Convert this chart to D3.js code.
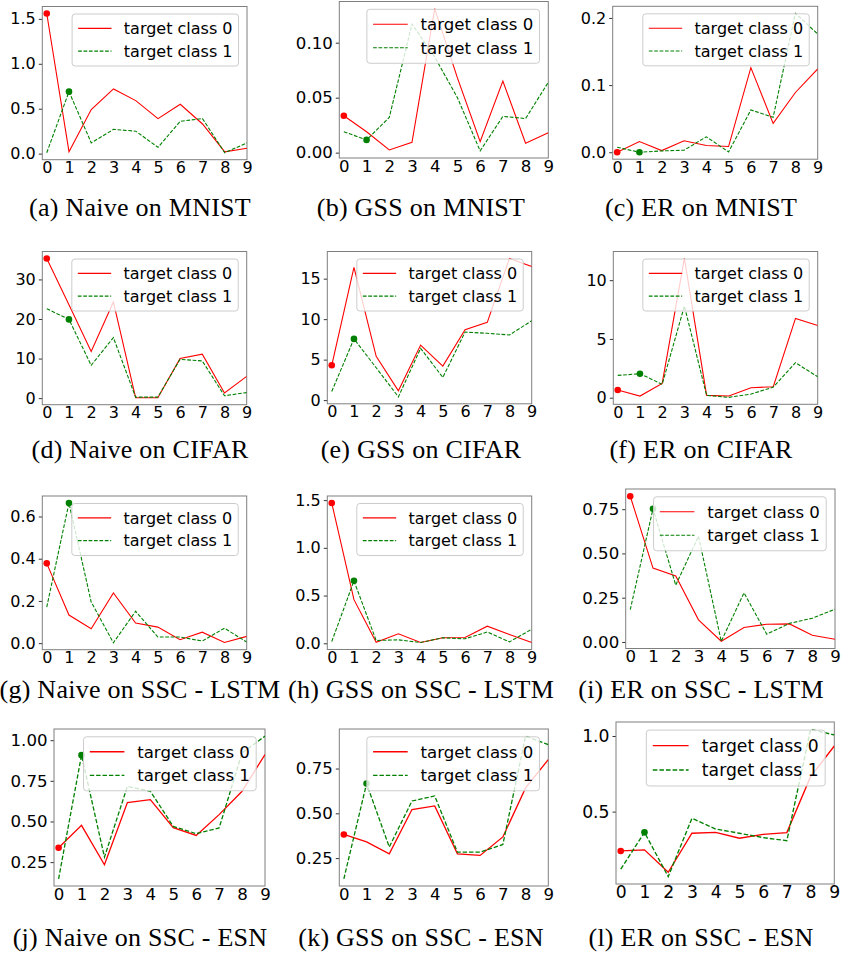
<!DOCTYPE html>
<html>
<head>
<meta charset="utf-8">
<script src="https://cdn.jsdelivr.net/npm/d3@7"></script>
<style>
  body { margin: 0; background: #fff; }
  svg { display: block; }
</style>
</head>
<body>
<div id="chart"></div>
<script>
// x categories (target class index on the x axis)
const classes = [0, 1, 2, 3, 4, 5, 6, 7, 8, 9];
const seriesNames = ["target class 0", "target class 1"];

// (a) Naive on MNIST
const naiveMnist0 = [1.56, 0.02, 0.49, 0.72, 0.59, 0.39, 0.55, 0.33, 0.02, 0.06];
const naiveMnist1 = [0.01, 0.69, 0.12, 0.27, 0.25, 0.07, 0.36, 0.39, 0.01, 0.12];
// (b) GSS on MNIST
const gssMnist0 = [0.0336, 0.019, 0.0025, 0.0094, 0.131, 0.068, 0.010, 0.065, 0.0085, 0.018];
const gssMnist1 = [0.019, 0.0116, 0.032, 0.117, 0.087, 0.050, 0.0016, 0.033, 0.031, 0.064];
// (c) ER on MNIST
const erMnist0 = [0.0, 0.016, 0.0025, 0.017, 0.010, 0.0085, 0.126, 0.043, 0.089, 0.124];
const erMnist1 = [0.0075, 0.0, 0.002, 0.003, 0.023, 0.0005, 0.063, 0.052, 0.207, 0.176];
// (d) Naive on CIFAR
const naiveCifar0 = [35.3, 23.6, 11.8, 24.3, 0.1, 0.1, 10.0, 11.1, 1.3, 5.5];
const naiveCifar1 = [22.6, 19.9, 8.3, 15.3, 0.25, 0.25, 9.8, 9.4, 0.6, 1.4];
// (e) GSS on CIFAR
const gssCifar0 = [4.3, 16.4, 5.4, 1.15, 6.8, 4.2, 8.7, 9.6, 17.5, 16.5];
const gssCifar1 = [1.07, 7.56, 4.0, 0.4, 6.4, 2.8, 8.4, 8.25, 8.05, 9.8];
// (f) ER on CIFAR
const erCifar0 = [0.65, 0.14, 1.22, 11.85, 0.2, 0.14, 0.85, 0.93, 6.75, 6.15];
const erCifar1 = [1.9, 2.04, 1.14, 7.8, 0.2, 0.03, 0.31, 0.9, 2.98, 1.78];
// (g) Naive on SSC - LSTM
const naiveLstm0 = [0.378, 0.133, 0.068, 0.238, 0.095, 0.076, 0.016, 0.052, 0.003, 0.032];
const naiveLstm1 = [0.171, 0.664, 0.195, 0.002, 0.151, 0.029, 0.029, 0.010, 0.071, 0.005];
// (h) GSS on SSC - LSTM
const gssLstm0 = [1.47, 0.457, 0.01, 0.10, 0.008, 0.058, 0.061, 0.179, 0.093, 0.008];
const gssLstm1 = [0.018, 0.654, 0.029, 0.036, 0.008, 0.058, 0.047, 0.118, 0.015, 0.147];
// (i) ER on SSC - LSTM
const erLstm0 = [0.823, 0.417, 0.373, 0.125, 0.004, 0.082, 0.10, 0.102, 0.038, 0.015];
const erLstm1 = [0.182, 0.752, 0.321, 0.597, 0.004, 0.277, 0.044, 0.105, 0.134, 0.185];
// (j) Naive on SSC - ESN
const naiveEsn0 = [0.338, 0.476, 0.234, 0.616, 0.634, 0.462, 0.414, 0.542, 0.686, 0.912];
const naiveEsn1 = [0.147, 0.908, 0.281, 0.716, 0.686, 0.470, 0.425, 0.460, 0.922, 1.025];
// (k) GSS on SSC - ESN
const gssEsn0 = [0.382, 0.340, 0.274, 0.521, 0.541, 0.274, 0.265, 0.368, 0.642, 0.800];
const gssEsn1 = [0.134, 0.666, 0.312, 0.569, 0.597, 0.283, 0.283, 0.326, 0.931, 0.884];
// (l) ER on SSC - ESN
const erEsn0 = [0.240, 0.247, 0.099, 0.357, 0.363, 0.324, 0.350, 0.361, 0.731, 0.934];
const erEsn1 = [0.119, 0.363, 0.070, 0.456, 0.385, 0.357, 0.328, 0.308, 1.044, 1.007];

// y tick labels, one list per panel
const yTicksA = ["0.0", "0.5", "1.0", "1.5"];
const yTicksB = ["0.00", "0.05", "0.10"];
const yTicksC = ["0.0", "0.1", "0.2"];
const yTicksD = ["0", "10", "20", "30"];
const yTicksE = ["0", "5", "10", "15"];
const yTicksF = ["0", "5", "10"];
const yTicksG = ["0.0", "0.2", "0.4", "0.6"];
const yTicksH = ["0.0", "0.5", "1.0", "1.5"];
const yTicksI = ["0.00", "0.25", "0.50", "0.75"];
const yTicksJ = ["0.25", "0.50", "0.75", "1.00"];
const yTicksK = ["0.25", "0.50", "0.75"];
const yTicksL = ["0.5", "1.0"];

const captions = [
    "(a) Naive on MNIST", "(b) GSS on MNIST", "(c) ER on MNIST",
    "(d) Naive on CIFAR", "(e) GSS on CIFAR", "(f) ER on CIFAR",
    "(g) Naive on SSC - LSTM", "(h) GSS on SSC - LSTM", "(i) ER on SSC - LSTM",
    "(j) Naive on SSC - ESN", "(k) GSS on SSC - ESN", "(l) ER on SSC - ESN"
];

const panels = [
    {c0: naiveMnist0, c1: naiveMnist1, ticks: yTicksA},
    {c0: gssMnist0, c1: gssMnist1, ticks: yTicksB},
    {c0: erMnist0, c1: erMnist1, ticks: yTicksC},
    {c0: naiveCifar0, c1: naiveCifar1, ticks: yTicksD},
    {c0: gssCifar0, c1: gssCifar1, ticks: yTicksE},
    {c0: erCifar0, c1: erCifar1, ticks: yTicksF},
    {c0: naiveLstm0, c1: naiveLstm1, ticks: yTicksG},
    {c0: gssLstm0, c1: gssLstm1, ticks: yTicksH},
    {c0: erLstm0, c1: erLstm1, ticks: yTicksI},
    {c0: naiveEsn0, c1: naiveEsn1, ticks: yTicksJ},
    {c0: gssEsn0, c1: gssEsn1, ticks: yTicksK},
    {c0: erEsn0, c1: erEsn1, ticks: yTicksL}
];

// axes boxes in px: left, top, right, bottom, font size, line width
const layout = [
    [42.3, 6.5, 247, 159.7, 16, 1.1], [339.3, 1.5, 548.3, 158, 16.6, 1.1], [612.7, 6.3, 817.7, 159.2, 16, 1.1],
    [42.3, 251.5, 246.7, 404.7, 16, 1.1], [327.3, 251.5, 531.7, 403.8, 16, 1.1], [613.3, 251.5, 817.7, 404.3, 16, 1.1],
    [42.3, 496, 246.7, 649.7, 16, 1.1], [327.3, 496, 531.7, 649.5, 16, 1.1], [625.7, 489, 835, 648.5, 16.6, 1.1],
    [54, 729, 265, 886, 16.6, 1.3], [339.3, 729, 548.3, 886, 16.6, 1.3], [616, 722, 834.3, 884, 17.2, 1.35]
];
const captionX = [140, 421, 701];
const captionY = [216, 458, 698, 946];

const svg = d3.select("#chart").append("svg")
    .attr("width", 841)
    .attr("height", 955)
    .style("font-family", "'DejaVu Sans', sans-serif");

panels.forEach(function (p, i) {
    drawPanel(p, layout[i], i);
    svg.append("text")
        .attr("x", captionX[i % 3])
        .attr("y", captionY[Math.floor(i / 3)])
        .attr("text-anchor", "middle")
        .style("font-family", "'Liberation Serif', serif")
        .style("font-size", "26px")
        .style("letter-spacing", "0.25px")
        .text(captions[i]);
});

function drawPanel(p, box, i) {
    const l = box[0], t = box[1], r = box[2], b = box[3], fs = box[4], sw = box[5];
    const dash = (sw * 3.4) + "," + (sw * 1.5);

    const x = d3.scaleLinear().domain([-0.2, 9]).range([l, r]);
    // matplotlib style 5% margins on y
    const all = p.c0.concat(p.c1);
    const lo = d3.min(all), hi = d3.max(all), pad = (hi - lo) * 0.05;
    const y = d3.scaleLinear().domain([lo - pad, hi + pad]).range([b, t]);

    const g = svg.append("g");

    svg.append("clipPath").attr("id", "clip" + i)
        .append("rect")
        .attr("x", l).attr("y", t)
        .attr("width", r - l).attr("height", b - t);

    // y axis
    const yAxis = g.append("g")
        .attr("transform", "translate(" + l + ",0)")
        .call(d3.axisLeft(y)
            .tickValues(p.ticks.map(Number))
            .tickFormat(function (d, k) { return p.ticks[k]; })
            .tickSize(3.5).tickPadding(3));
    // x axis
    const xAxis = g.append("g")
        .attr("transform", "translate(0," + b + ")")
        .call(d3.axisBottom(x).tickValues(classes).tickSize(0).tickPadding(2));

    [yAxis, xAxis].forEach(function (a) {
        a.select(".domain").remove();
        a.selectAll("line").attr("stroke", "#333");
        a.selectAll("text")
            .attr("fill", "#000")
            .style("font-family", "'DejaVu Sans', sans-serif")
            .style("font-size", fs + "px");
    });

    // spines
    g.append("rect")
        .attr("x", l).attr("y", t)
        .attr("width", r - l).attr("height", b - t)
        .attr("fill", "none")
        .attr("stroke", "#7f7f7f")
        .attr("stroke-width", 1);

    const line = d3.line()
        .x(function (d, k) { return x(classes[k]); })
        .y(function (d) { return y(d); });

    const plot = g.append("g").attr("clip-path", "url(#clip" + i + ")");

    plot.append("path")
        .datum(p.c0)
        .attr("fill", "none")
        .attr("stroke", "#ff0000")
        .attr("stroke-width", sw)
        .attr("d", line);

    plot.append("path")
        .datum(p.c1)
        .attr("fill", "none")
        .attr("stroke", "#008000")
        .attr("stroke-width", sw)
        .attr("stroke-dasharray", dash)
        .attr("d", line);

    // highlighted points: class 0 at x=0, class 1 at x=1
    plot.append("circle")
        .attr("cx", x(classes[0])).attr("cy", y(p.c0[0]))
        .attr("r", 3.3).attr("fill", "#ff0000");
    plot.append("circle")
        .attr("cx", x(classes[1])).attr("cy", y(p.c1[1]))
        .attr("r", 3.3).attr("fill", "#008000");

    // legend, upper right
    const lw = 10.4 * fs, lh = 3.25 * fs;
    const lx = r - 0.53 * fs - lw, ly = t + 0.47 * fs;
    const leg = g.append("g");
    leg.append("rect")
        .attr("x", lx).attr("y", ly)
        .attr("width", lw).attr("height", lh)
        .attr("rx", 3)
        .attr("fill", "#fff").attr("fill-opacity", 0.8)
        .attr("stroke", "#cccccc");

    const styles = [
        {color: "#ff0000", dash: null},
        {color: "#008000", dash: dash}
    ];
    seriesNames.forEach(function (name, k) {
        const yy = ly + 0.9 * fs + k * 1.42 * fs;
        leg.append("line")
            .attr("x1", lx + 0.375 * fs).attr("x2", lx + 2.46 * fs)
            .attr("y1", yy).attr("y2", yy)
            .attr("stroke", styles[k].color)
            .attr("stroke-width", sw)
            .attr("stroke-dasharray", styles[k].dash);
        leg.append("text")
            .attr("x", lx + 3.23 * fs).attr("y", yy)
            .attr("dy", "0.35em")
            .style("font-size", fs + "px")
            .attr("fill", "#000")
            .text(name);
    });
}
</script>
</body>
</html>
